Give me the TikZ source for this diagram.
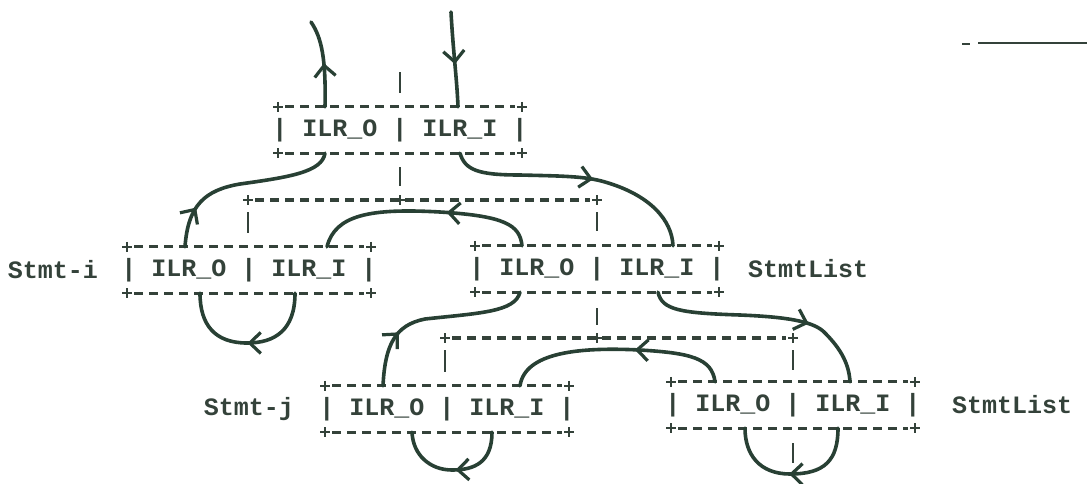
\documentclass[tikz,border=0pt]{standalone}
\usepackage{fontspec}
\newfontfamily\asciifont{Liberation Mono}[BoldFont={* Bold}]
\usetikzlibrary{arrows.meta,decorations.markings,calc}

\definecolor{printink}{RGB}{52,66,58}
\definecolor{penink}{RGB}{40,64,52}

\tikzset{
  ilrtext/.style={font=\asciifont\bfseries\fontsize{25}{25}\selectfont, text=printink,
    inner sep=0pt, minimum height=46pt},
  labeltext/.style={font=\asciifont\bfseries\fontsize{25}{25}\selectfont, text=printink,
    inner sep=0pt},
  asciidash/.style={draw=printink, line width=3.2pt, dash pattern=on 9pt off 6pt,
    shorten <=7pt, shorten >=7pt},
  plusline/.style={draw=printink, line width=2.2pt},
  asciibar/.style={draw=printink, line width=2.8pt},
  flow/.style={draw=penink, line width=3.6pt, line cap=round},
  midarrow/.style={postaction={decorate}, decoration={markings,
    mark=at position #1 with {\arrow{Straight Barb[length=11pt,width=21pt,line width=3.2pt,penink]}}}},
}

% an ASCII "+" drawn at a coordinate
\newcommand\asciiplus[1]{%
  \draw[plusline] ($(#1)+(-5,0)$) -- ($(#1)+(5,0)$);
  \draw[plusline] ($(#1)+(0,-5)$) -- ($(#1)+(0,5)$);}

% an attribute record: "| ILR_O | ILR_I |" framed by dashed rules with + corners
\newcommand\ilrbox[3]{%
  \node[ilrtext] (#1) at (#2,#3) {| ILR\_O | ILR\_I |};
  \coordinate (#1-nw) at ([xshift=-122pt]#1.north);
  \coordinate (#1-ne) at ([xshift=122pt]#1.north);
  \coordinate (#1-sw) at ([xshift=-122pt]#1.south);
  \coordinate (#1-se) at ([xshift=122pt]#1.south);
  \draw[asciidash] (#1-nw) -- (#1-ne);
  \draw[asciidash] (#1-sw) -- (#1-se);
  \asciiplus{#1-nw}\asciiplus{#1-ne}\asciiplus{#1-sw}\asciiplus{#1-se}}

\begin{document}
\begin{tikzpicture}[x=1pt,y=-1pt]
\useasboundingbox (0,0) rectangle (1087,483);
\fill[white] (0,0) rectangle (1087,483);

% records
\ilrbox{A}{400}{130}
\ilrbox{B}{249}{270}
\ilrbox{C}{597}{269}
\ilrbox{D}{447}{409}
\ilrbox{E}{793}{405}

% labels
\node[labeltext, anchor=east] (li) at (98,270) {Stmt-i};
\node[labeltext, anchor=west] (lc) at (748,269) {StmtList};
\node[labeltext, anchor=east] (lj) at (294,409) {Stmt-j};
\node[labeltext, anchor=west] (le) at (952,405) {StmtList};

% tree links (ASCII rules)
\draw[asciibar] (400,72) -- (400,93);
\draw[asciibar] (400,167) -- (400,186);
\coordinate (k1l) at (248,200);
\coordinate (k1m) at (400,200);
\coordinate (k1r) at (597,200);
\draw[asciidash] (k1l) -- (k1r);
\asciiplus{k1l}\asciiplus{k1m}\asciiplus{k1r}
\draw[asciibar] (248,212) -- (248,233);
\draw[asciibar] (597,212) -- (597,231);

\draw[asciibar] (597,308) -- (597,325);
\coordinate (k2l) at (445,338);
\coordinate (k2m) at (597,338);
\coordinate (k2r) at (793,338);
\draw[asciidash] (k2l) -- (k2r);
\asciiplus{k2l}\asciiplus{k2m}\asciiplus{k2r}
\draw[asciibar] (445,350) -- (445,372);
\draw[asciibar] (793,350) -- (793,370);
\draw[asciibar] (793,443) -- (793,463);

% attribute flow
\coordinate (outT) at (311,22);
\coordinate (inT) at (451,12);
\draw[flow, midarrow=0.5] ([xshift=-75pt]A.north) .. controls (326,60) and (322,38) .. (outT);
\draw[flow, midarrow=0.55] (inT) .. controls (453,50) and (457,80) .. ([xshift=58pt]A.north);

\draw[flow, midarrow=0.22] ([xshift=-64pt]B.north) .. controls (188,205) and (205,190) .. (240,184)
  .. controls (290,177) and (322,172) .. ([xshift=-75pt]A.south);
\draw[flow, midarrow=0.56] ([xshift=60pt]A.south) .. controls (465,170) and (478,175) .. (520,175)
  .. controls (560,176) and (585,176) .. (605,182) .. controls (650,195) and (672,220) .. ([xshift=76pt]C.north);

\draw[flow, midarrow=0.4] ([xshift=-75pt]C.north) .. controls (520,225) and (505,216) .. (440,212)
  .. controls (370,208) and (335,215) .. ([xshift=78pt]B.north);
\draw[flow, midarrow=0.5] ([xshift=46pt]B.south) .. controls (295,330) and (275,343) .. (247,343)
  .. controls (215,343) and (200,325) .. ([xshift=-49pt]B.south);

\draw[flow, midarrow=0.3] ([xshift=-64pt]D.north) .. controls (385,345) and (395,325) .. (425,319)
  .. controls (480,313) and (515,312) .. ([xshift=-77pt]C.south);
\draw[flow, midarrow=0.68] ([xshift=61pt]C.south) .. controls (662,310) and (680,313) .. (740,315)
  .. controls (790,317) and (815,322) .. (825,333) .. controls (842,350) and (849,365) .. ([xshift=57pt]E.north);

\draw[flow, midarrow=0.42] ([xshift=-78pt]E.north) .. controls (712,358) and (690,353) .. (640,350)
  .. controls (580,347) and (525,352) .. ([xshift=73pt]D.north);
\draw[flow, midarrow=0.48] ([xshift=45pt]D.south) .. controls (492,462) and (475,470) .. (452,470)
  .. controls (430,470) and (413,455) .. ([xshift=-35pt]D.south);
\draw[flow, midarrow=0.52] ([xshift=45pt]E.south) .. controls (838,460) and (825,474) .. (790,474)
  .. controls (760,474) and (745,455) .. ([xshift=-48pt]E.south);

% rule at the upper right
\coordinate (r0) at (962,44);
\coordinate (r1) at (970,44);
\coordinate (r2) at (978,43);
\coordinate (r3) at (1087,43);
\draw[draw=printink, line width=1.4pt] (r0) -- (r1);
\draw[draw=printink, line width=2.4pt] (r2) -- (r3);
\end{tikzpicture}
\end{document}
